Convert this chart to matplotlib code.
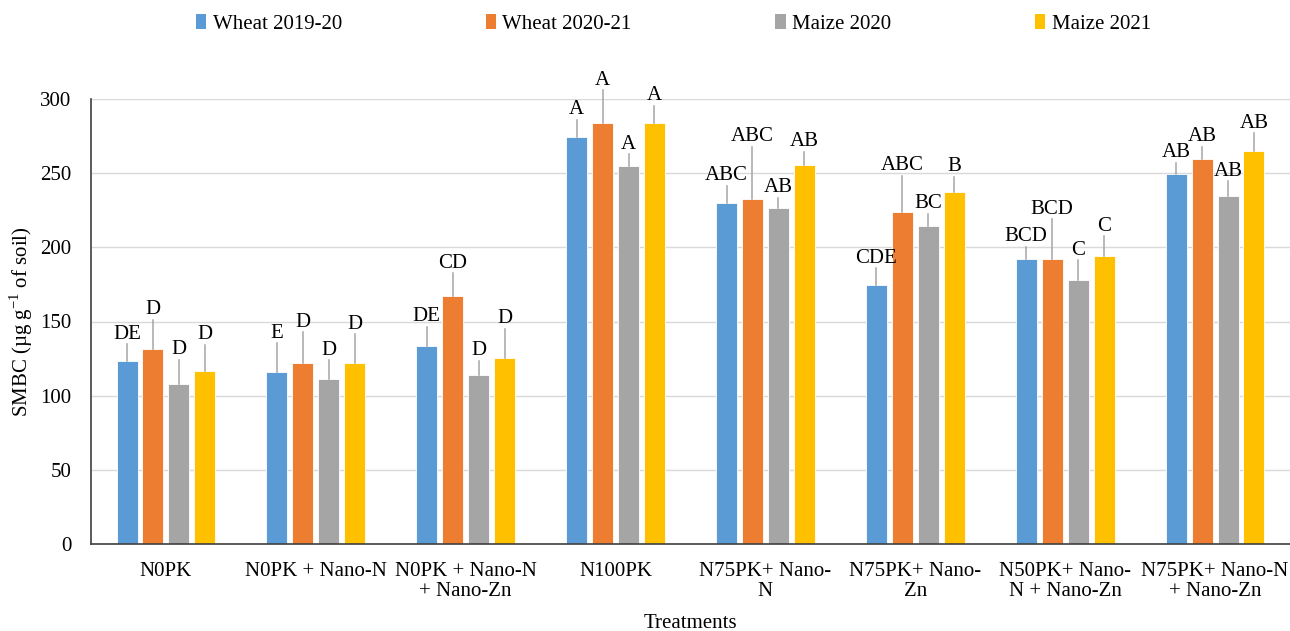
import numpy as np
import matplotlib.pyplot as plt
from matplotlib.patches import Patch


treatments = [
    "N0PK",
    "N0PK + Nano-N",
    "N0PK + Nano-N\n+ Nano-Zn",
    "N100PK",
    "N75PK+ Nano-\nN",
    "N75PK+ Nano-\nZn",
    "N50PK+ Nano-\nN + Nano-Zn",
    "N75PK+ Nano-N\n+ Nano-Zn",
]
series_names = ["Wheat 2019-20", "Wheat 2020-21", "Maize 2020", "Maize 2021"]

wheat_1920 = [123.2, 115.7, 133.3, 274.3, 229.9, 174.3, 191.9, 249.7]
wheat_2021 = [131.7, 121.8, 167.0, 284.0, 232.9, 223.9, 191.9, 259.7]
maize_2020 = [107.9, 111.0, 113.7, 254.5, 226.6, 214.2, 178.2, 234.4]
maize_2021 = [116.4, 122.0, 125.7, 283.5, 255.4, 237.6, 194.4, 265.0]

err_wheat_1920 = [11.4, 19.6, 13.3, 11.7, 11.5, 11.7, 8.3, 7.3]
err_wheat_2021 = [19.6, 21.0, 15.6, 21.8, 35.0, 24.3, 27.0, 8.1]
err_maize_2020 = [16.4, 13.0, 10.0, 8.3, 6.7, 8.5, 13.2, 10.2]
err_maize_2021 = [18.0, 19.4, 19.3, 11.8, 8.9, 10.1, 13.2, 11.8]

letters_wheat_1920 = ["DE", "E", "DE", "A", "ABC", "CDE", "BCD", "AB"]
letters_wheat_2021 = ["D", "D", "CD", "A", "ABC", "ABC", "BCD", "AB"]
letters_maize_2020 = ["D", "D", "D", "A", "AB", "BC", "C", "AB"]
letters_maize_2021 = ["D", "D", "D", "A", "AB", "B", "C", "AB"]

values = [wheat_1920, wheat_2021, maize_2020, maize_2021]
errors = [err_wheat_1920, err_wheat_2021, err_maize_2020, err_maize_2021]
letters = [letters_wheat_1920, letters_wheat_2021, letters_maize_2020, letters_maize_2021]
colors = ["#5B9BD5", "#ED7D31", "#A5A5A5", "#FFC000"]

FS = 15

plt.rcParams["font.family"] = ["Liberation Serif", "DejaVu Serif"]
plt.rcParams["mathtext.fontset"] = "custom"
plt.rcParams["mathtext.rm"] = "Liberation Serif"

fig = plt.figure(figsize=(12.9, 6.31), dpi=100)
ax = fig.add_axes([91 / 1290, 1 - 544 / 631, 1 - 91 / 1290, 445 / 631])

x = np.arange(len(treatments))
pitch = 0.173
width = 0.14

for i in range(4):
    pos = x + (i - 1.5) * pitch
    ax.bar(pos, values[i], width, color=colors[i], edgecolor="white",
           linewidth=0.6, zorder=2)
    for xp, v, e, lab in zip(pos, values[i], errors[i], letters[i]):
        ax.plot([xp, xp], [v, v + e], color="#A5A5A5", linewidth=1.1,
                zorder=3, clip_on=False)
        ax.annotate(lab, (xp, v + e), textcoords="offset points",
                    xytext=(0, 4), ha="center", va="baseline", fontsize=FS,
                    annotation_clip=False)

ax.set_xlim(-0.5, len(treatments) - 0.5)
ax.set_ylim(0, 300)
ax.set_yticks(np.arange(0, 301, 50))
ax.set_xticks(x)
ax.set_xticklabels(treatments, fontsize=FS, linespacing=1.1)
ax.tick_params(axis="y", length=0, pad=14, labelsize=FS)
ax.tick_params(axis="x", length=0, pad=13)
ax.grid(axis="y", color="#D9D9D9", linewidth=1.0, zorder=0)
ax.set_axisbelow(True)

for side in ["top", "right"]:
    ax.spines[side].set_visible(False)
ax.spines["left"].set_color("#404040")
ax.spines["bottom"].set_color("#404040")
ax.spines["left"].set_linewidth(1.2)
ax.spines["bottom"].set_linewidth(1.2)

ax.set_xlabel("Treatments", fontsize=FS, labelpad=9)
ax.set_ylabel("SMBC (µg g$^{\\mathregular{-1}}$ of soil)", fontsize=FS, labelpad=4)

handles = [Patch(facecolor=c, edgecolor="none") for c in colors]
fig.legend(handles, series_names, loc="center", bbox_to_anchor=(0.522, 0.962),
           ncol=4, frameon=False, fontsize=FS, handlelength=0.5,
           handleheight=0.75, handletextpad=0.3, columnspacing=6.9)

fig.savefig("out.png", dpi=100)
